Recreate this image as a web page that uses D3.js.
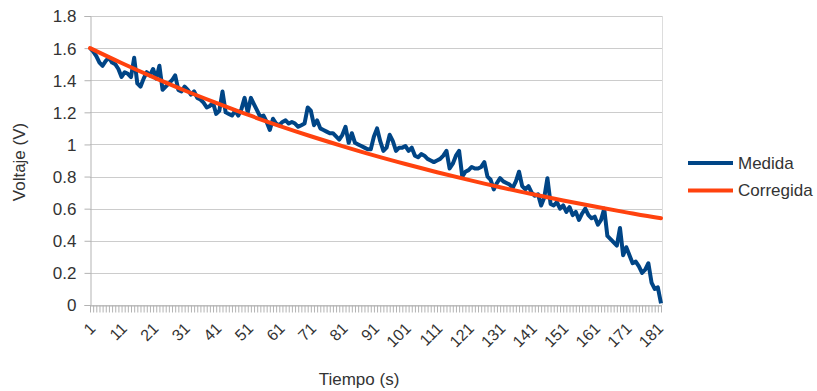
<!DOCTYPE html>
<html lang="es">
<head>
  <meta charset="utf-8" />
  <title>Voltaje medido y corregido</title>
  <script src="https://cdnjs.cloudflare.com/ajax/libs/d3/7.8.5/d3.min.js"></script>
  <style>
    html, body { margin: 0; padding: 0; background: #fff; }
    svg { display: block; font-family: "Liberation Sans", Arial, sans-serif; }
  </style>
</head>
<body>
<svg id="chart" width="817" height="391"></svg>
<script>
  // seconds 1..182
  const tiempo = d3.range(1, 183);

  const medida = [
    1.60, 1.58, 1.55, 1.51, 1.49, 1.52, 1.54, 1.51, 1.50, 1.47,
    1.42, 1.45, 1.44, 1.42, 1.54, 1.38, 1.36, 1.41, 1.45, 1.43,
    1.47, 1.41, 1.49, 1.34, 1.36, 1.38, 1.40, 1.43, 1.34, 1.33,
    1.36, 1.34, 1.31, 1.33, 1.29, 1.28, 1.26, 1.23, 1.24, 1.26,
    1.19, 1.21, 1.33, 1.20, 1.19, 1.18, 1.21, 1.18, 1.22, 1.29,
    1.20, 1.29, 1.25, 1.21, 1.17, 1.18, 1.14, 1.09, 1.16, 1.13,
    1.12, 1.14, 1.15, 1.13, 1.14, 1.13, 1.11, 1.12, 1.13, 1.23,
    1.21, 1.12, 1.15, 1.10, 1.09, 1.08, 1.07, 1.07, 1.05, 1.03,
    1.06, 1.11, 1.01, 1.07, 1.01, 1.00, 0.99, 0.98, 0.97, 0.97,
    1.05, 1.10, 1.02, 0.96, 0.98, 1.06, 1.02, 0.96, 0.98, 0.98,
    0.99, 0.96, 0.98, 0.93, 0.92, 0.94, 0.93, 0.91, 0.90, 0.89,
    0.90, 0.91, 0.93, 0.96, 0.85, 0.88, 0.93, 0.96, 0.80, 0.83,
    0.84, 0.86, 0.85, 0.85, 0.86, 0.89, 0.80, 0.78, 0.72, 0.76,
    0.79, 0.77, 0.76, 0.75, 0.73, 0.77, 0.83, 0.74, 0.72, 0.74,
    0.70, 0.68, 0.69, 0.62, 0.67, 0.79, 0.63, 0.62, 0.64, 0.60,
    0.62, 0.58, 0.61, 0.56, 0.58, 0.53, 0.57, 0.60, 0.56, 0.54,
    0.55, 0.50, 0.53, 0.60, 0.43, 0.41, 0.39, 0.37, 0.48, 0.31,
    0.36, 0.31, 0.26, 0.27, 0.24, 0.20, 0.22, 0.26, 0.14, 0.10,
    0.11, 0.01
  ];

  // corrected curve, read every 10 s
  const corregidaT = [1, 11, 21, 31, 41, 51, 61, 71, 81, 91, 101, 111, 121, 131, 141, 151, 161, 171, 181, 182];
  const corregida = [1.600, 1.507, 1.419, 1.336, 1.259, 1.185, 1.116, 1.051, 0.990, 0.932,
                     0.878, 0.827, 0.779, 0.733, 0.691, 0.651, 0.613, 0.577, 0.543, 0.540];

  const yTicks = [0, 0.2, 0.4, 0.6, 0.8, 1, 1.2, 1.4, 1.6, 1.8];
  const xLabels = d3.range(1, 183, 10);

  const series = [
    { name: "Medida", color: "#004586" },
    { name: "Corregida", color: "#ff420e" }
  ];

  const svg = d3.select("#chart");
  const textColor = "#333333";
  const plot = { left: 90, right: 661, top: 16, bottom: 305 };

  const x = d3.scalePoint()
    .domain(tiempo)
    .range([plot.left, plot.right]);

  const y = d3.scaleLinear()
    .domain([0, 1.8])
    .range([plot.bottom, plot.top]);

  // horizontal gridlines
  svg.append("g")
    .selectAll("line")
    .data(yTicks)
    .enter()
    .append("line")
    .attr("x1", plot.left)
    .attr("x2", plot.right + 1)
    .attr("y1", d => Math.round(y(d)) + 0.5)
    .attr("y2", d => Math.round(y(d)) + 0.5)
    .attr("stroke", "#cccccc")
    .attr("stroke-width", 1);

  // right edge of the wall
  svg.append("line")
    .attr("x1", plot.right + 1.5).attr("x2", plot.right + 1.5)
    .attr("y1", plot.top).attr("y2", plot.bottom)
    .attr("stroke", "#dddddd");

  // y axis
  const yAxis = svg.append("g")
    .attr("transform", "translate(" + (plot.left + 0.5) + ",0)")
    .call(d3.axisLeft(y).tickValues(yTicks).tickSize(6).tickPadding(8)
      .tickFormat(d => String(d)));
  yAxis.selectAll("line, path").attr("stroke", "#b3b3b3");
  yAxis.selectAll("text")
    .attr("fill", textColor)
    .style("font-size", "17px")
    .attr("dy", "0.35em");

  // x axis with a tick per second
  const xAxis = svg.append("g")
    .attr("transform", "translate(0," + (plot.bottom + 0.5) + ")")
    .call(d3.axisBottom(x).tickSize(7).tickSizeOuter(0)
      .tickFormat(d => (xLabels.indexOf(d) !== -1 ? d : "")));
  xAxis.selectAll("line, path").attr("stroke", "#b3b3b3");
  xAxis.selectAll("text")
    .attr("fill", textColor)
    .style("font-size", "16px")
    .style("text-anchor", "end")
    .attr("x", 0)
    .attr("y", 0)
    .attr("dx", 0)
    .attr("dy", "0.35em")
    .attr("transform", "translate(2,20) rotate(-45)");

  // lines
  const lineMedida = d3.line()
    .x((d, i) => x(tiempo[i]))
    .y(d => y(d));

  const lineCorregida = d3.line()
    .x((d, i) => x(corregidaT[i]))
    .y(d => y(d))
    .curve(d3.curveMonotoneX);

  svg.append("path")
    .datum(medida)
    .attr("fill", "none")
    .attr("stroke", series[0].color)
    .attr("stroke-width", 4)
    .attr("stroke-linejoin", "round")
    .attr("d", lineMedida);

  svg.append("path")
    .datum(corregida)
    .attr("fill", "none")
    .attr("stroke", series[1].color)
    .attr("stroke-width", 4)
    .attr("stroke-linecap", "round")
    .attr("d", lineCorregida);

  // axis titles
  svg.append("text")
    .attr("x", 359)
    .attr("y", 385)
    .attr("text-anchor", "middle")
    .attr("fill", textColor)
    .style("font-size", "17px")
    .text("Tiempo (s)");

  svg.append("text")
    .attr("transform", "translate(25,162) rotate(-90)")
    .attr("text-anchor", "middle")
    .attr("fill", textColor)
    .style("font-size", "17px")
    .text("Voltaje (V)");

  // legend
  const legend = svg.append("g")
    .selectAll("g")
    .data(series)
    .enter()
    .append("g")
    .attr("transform", (d, i) => "translate(688," + (163 + i * 27.5) + ")");

  legend.append("line")
    .attr("x1", 0).attr("x2", 45)
    .attr("stroke", d => d.color)
    .attr("stroke-width", 4);

  legend.append("text")
    .attr("x", 50)
    .attr("dy", "0.35em")
    .attr("fill", textColor)
    .style("font-size", "17px")
    .text(d => d.name);
</script>
</body>
</html>
